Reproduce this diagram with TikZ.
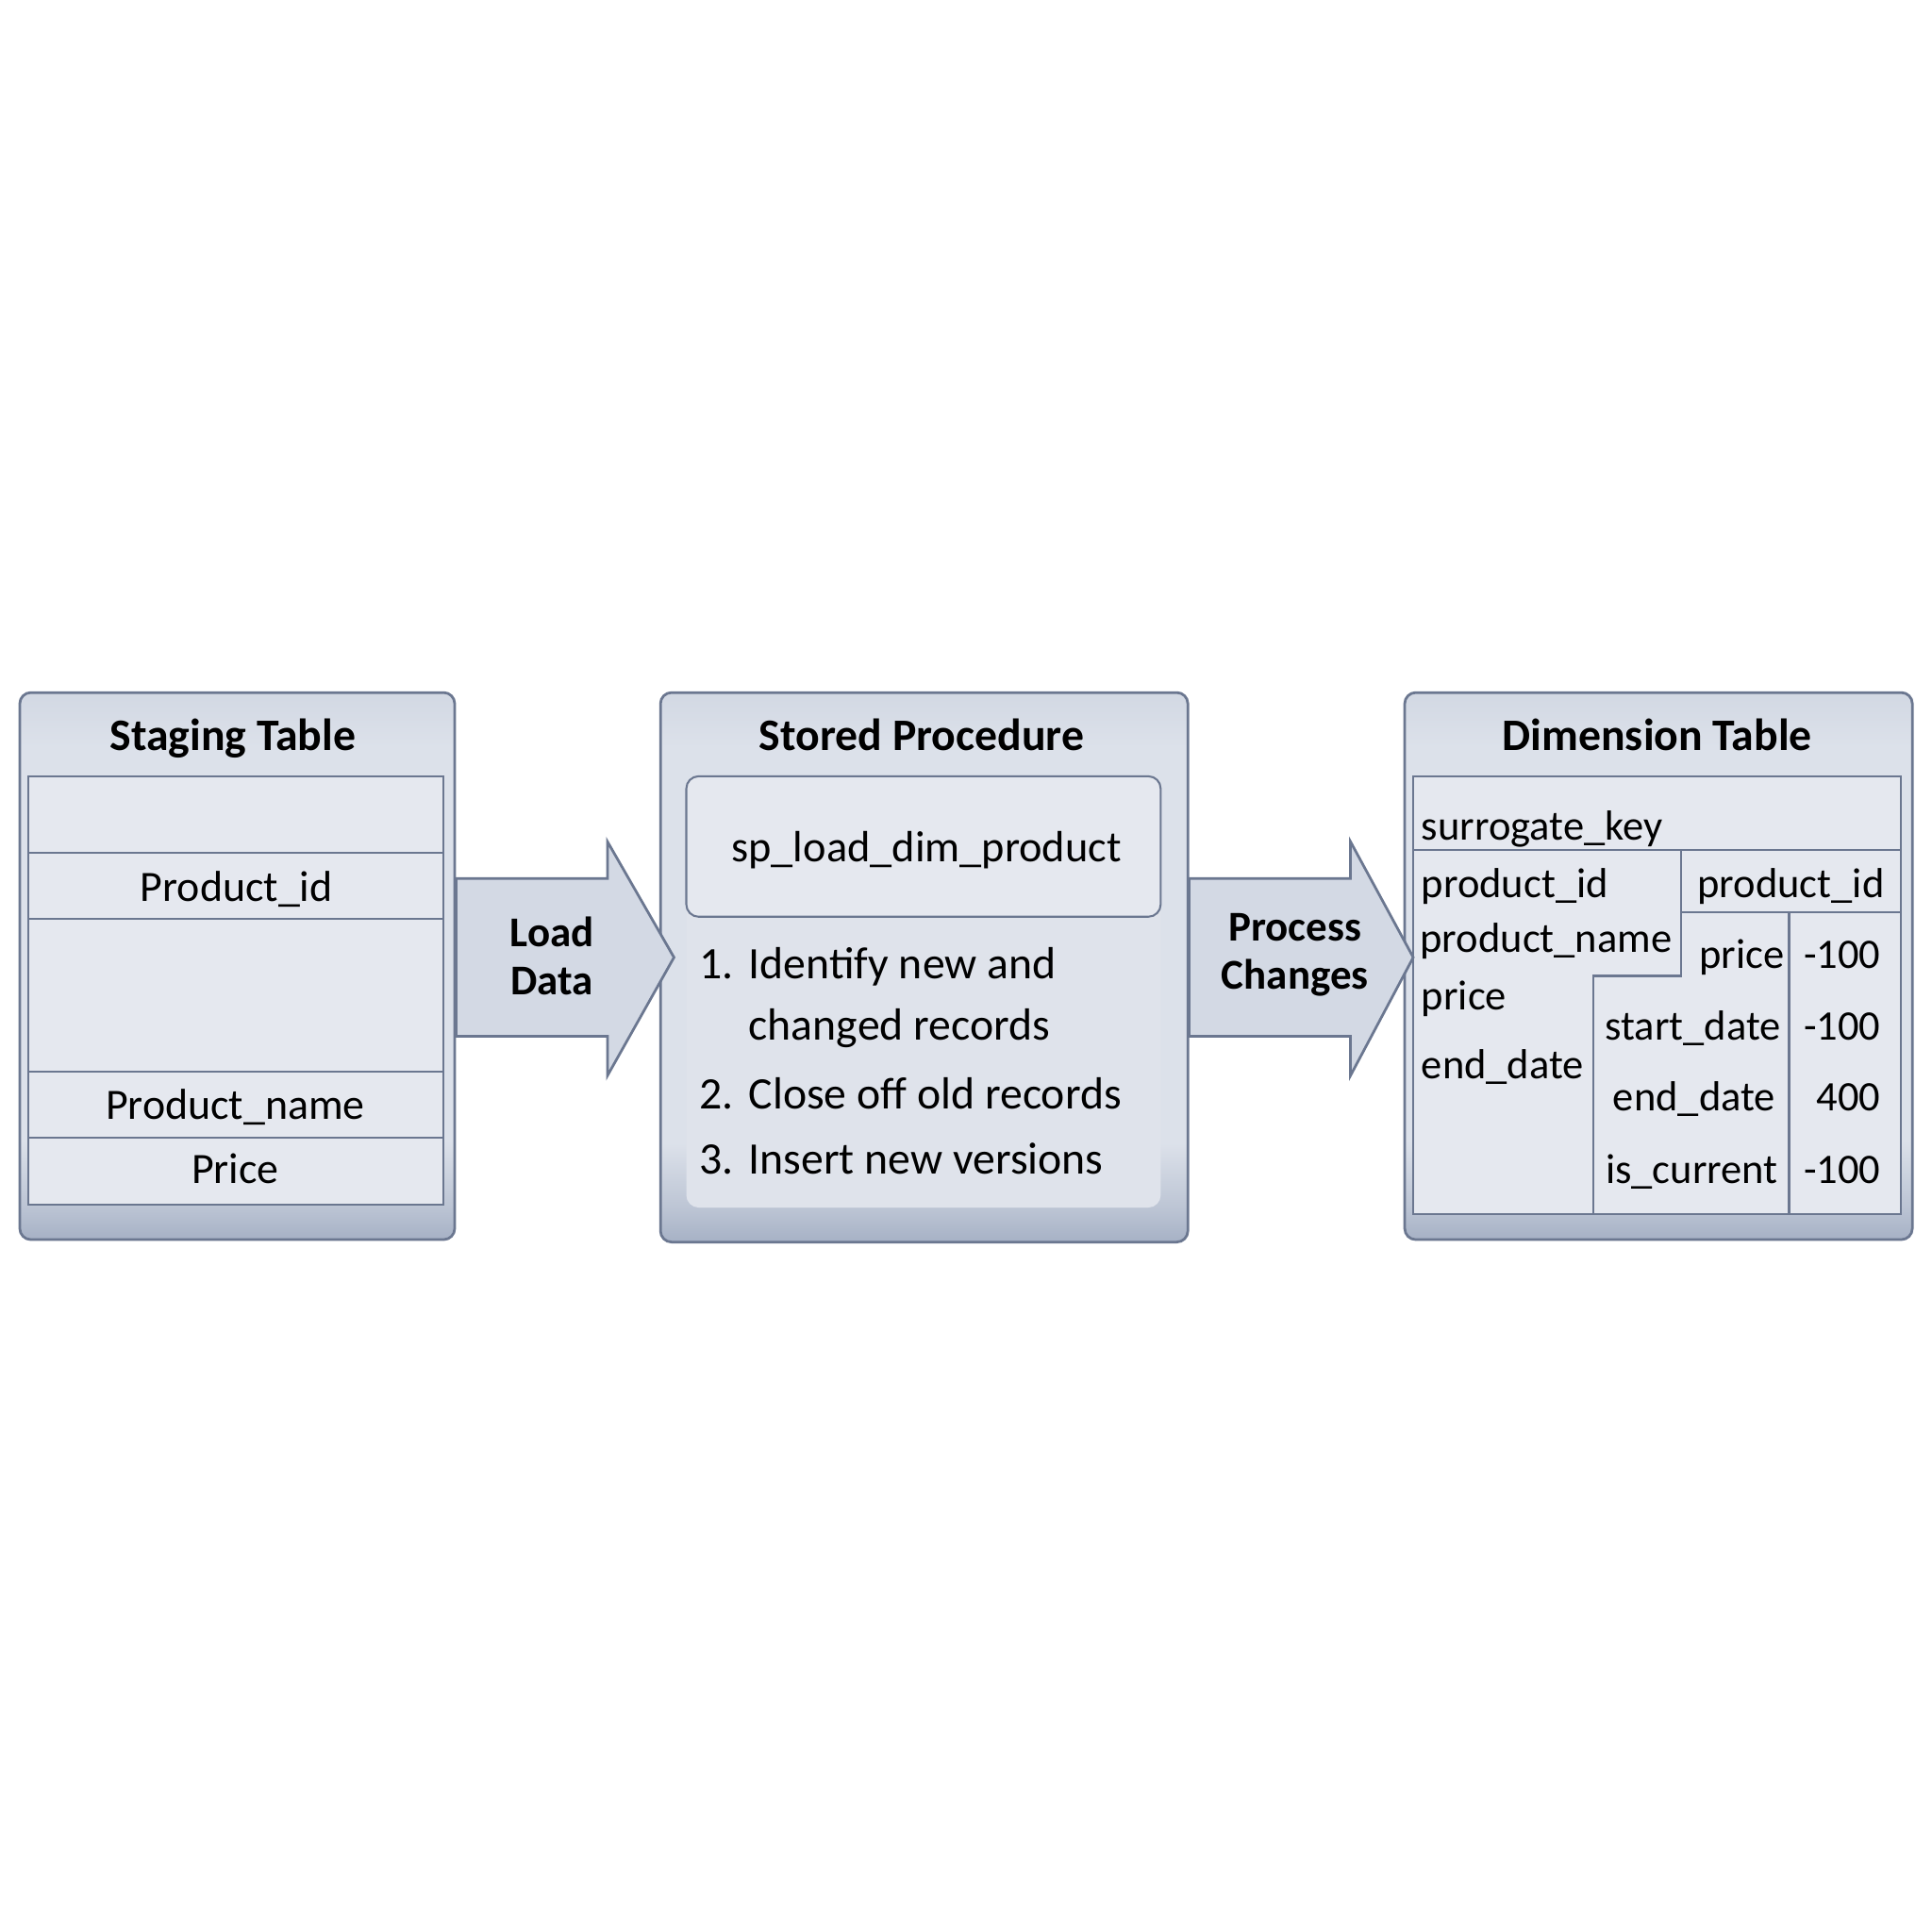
\documentclass[tikz,border=0pt]{standalone}
\usepackage{fontspec}
\setmainfont{Carlito}
\usetikzlibrary{calc}
\definecolor{bord}{HTML}{6B7790}
\definecolor{boxtop}{HTML}{D2D8E3}
\definecolor{boxmid}{HTML}{DCE1EA}
\definecolor{boxbot}{HTML}{A6B1C5}
\definecolor{cell}{HTML}{E5E8EF}
\definecolor{panel}{HTML}{DFE3EB}
\definecolor{arrowfill}{HTML}{D3D9E4}
\pgfdeclareverticalshading{boxshade}{100bp}{color(0bp)=(boxbot); color(25bp)=(boxbot); color(28bp)=(boxbot!60!boxmid); color(34bp)=(boxmid); color(70bp)=(boxmid); color(75bp)=(boxtop); color(100bp)=(boxtop)}
\tikzset{
  outerbox/.style={draw=bord, line width=0.6pt, rounded corners=0.9mm, shading=boxshade, inner sep=0pt, anchor=north west},
  cellline/.style={draw=bord, line width=0.45pt},
  titletext/.style={font=\fontsize{10.4}{12}\selectfont\bfseries, inner sep=0pt, text height=1.5ex, text depth=0.4ex, yshift=-0.3mm},
  txt/.style={font=\fontsize{10}{12}\selectfont, inner sep=0pt, text height=1.5ex, text depth=0.4ex, yshift=-0.25mm},
  dtxt/.style={font=\fontsize{9.7}{12}\selectfont, inner sep=0pt, text height=1.5ex, text depth=0.4ex, yshift=-0.25mm},
  listtxt/.style={font=\fontsize{10.4}{12}\selectfont, inner sep=0pt, anchor=base west},
  arrowlbl/.style={font=\fontsize{9.8}{11}\selectfont\bfseries, inner sep=0pt, align=center},
  blockarrow/.style={draw=bord, line width=0.6pt, fill=arrowfill, line join=miter}
}
\begin{document}
\begin{tikzpicture}[x=0.1mm,y=-0.1mm]
\useasboundingbox (0,0) rectangle (1568,1568);
\fill[white] (0,0) rectangle (1568,1568);

% ---------- outer boxes ----------
\node[outerbox, minimum width=35.3mm, minimum height=44.4mm] (stage) at (15,561) {};
\node[outerbox, minimum width=42.8mm, minimum height=44.6mm] (sp) at (535,561) {};
\node[outerbox, minimum width=41.2mm, minimum height=44.4mm] (dim) at (1139,561) {};

% ---------- staging table ----------
\node[titletext] (stagetitle) at (189,597) {Staging Table};
\draw[cellline, fill=cell] (23,630) rectangle (360,978);
\draw[cellline] (23,692) -- (360,692);
\draw[cellline] (23,746) -- (360,746);
\draw[cellline] (23,870) -- (360,870);
\draw[cellline] (23,923) -- (360,923);
\node[txt] (s1) at (192,720) {Product\_id};
\node[txt] (s2) at (191,897) {Product\_name};
\node[txt] (s3) at (191,949) {Price};

% ---------- stored procedure ----------
\node[titletext] (sptitle) at (748,597) {Stored Procedure};
\fill[panel, rounded corners=1mm] (557,720) rectangle (942,980);
\draw[cellline, fill=cell, rounded corners=1mm] (557,630) rectangle (942,744);
\node[txt, font=\fontsize{10.1}{12}\selectfont] (spname) at (752,688) {sp\_load\_dim\_product};
\node[listtxt] (n1) at (567,794) {1.};
\node[listtxt] (l1) at (607,794) {Identify new and};
\node[listtxt] (l1b) at (607,844) {changed records};
\node[listtxt] (n2) at (567,900) {2.};
\node[listtxt] (l2) at (607,900) {Close off old records};
\node[listtxt] (n3) at (567,953) {3.};
\node[listtxt] (l3) at (607,953) {Insert new versions};

% ---------- dimension table ----------
\node[titletext] (dimtitle) at (1345,597) {Dimension Table};
\draw[cellline, fill=cell] (1147,630) rectangle (1543,985);
\draw[cellline] (1147,690) -- (1543,690);
\draw[cellline] (1364,690) -- (1364,792) -- (1293,792) -- (1293,985);
\draw[cellline] (1364,740) -- (1543,740);
\draw[cellline] (1452,740) -- (1452,985);
\node[dtxt, anchor=west] (d0) at (1153,670) {surrogate\_key};
\node[dtxt, anchor=west] (d1) at (1153,717) {product\_id};
\node[dtxt, anchor=west] (d2) at (1152,761) {product\_name};
\node[dtxt, anchor=west] (d3) at (1153,808) {price};
\node[dtxt, anchor=west] (d4) at (1153,864) {end\_date};
\node[dtxt, anchor=east] (r0) at (1530,717) {product\_id};
\node[dtxt, anchor=east] (r1) at (1449,774) {price};
\node[dtxt] (r2) at (1374,832) {start\_date};
\node[dtxt] (r3) at (1375,890) {end\_date};
\node[dtxt] (r4) at (1373,949) {is\_current};
\node[dtxt, anchor=east] (v1) at (1527,774) {-100};
\node[dtxt, anchor=east] (v2) at (1527,832) {-100};
\node[dtxt, anchor=east] (v3) at (1527,890) {400};
\node[dtxt, anchor=east] (v4) at (1527,949) {-100};

% ---------- block arrows ----------
\coordinate (atop) at (0,713);
\coordinate (abot) at (0,841);
\draw[blockarrow] (stage.east |- atop) -- (493,713) -- (493,683) -- (547,777) -- (493,873) -- (493,841) -- (stage.east |- abot) -- cycle;
\node[arrowlbl] (loadlbl) at (448,776) {Load\\Data};
\draw[blockarrow] (sp.east |- atop) -- (1096,713) -- (1096,683) -- (1147,777) -- (1096,873) -- (1096,841) -- (sp.east |- abot) -- cycle;
\node[arrowlbl] (proclbl) at (1051,775) {Process\\Changes};
\end{tikzpicture}
\end{document}
